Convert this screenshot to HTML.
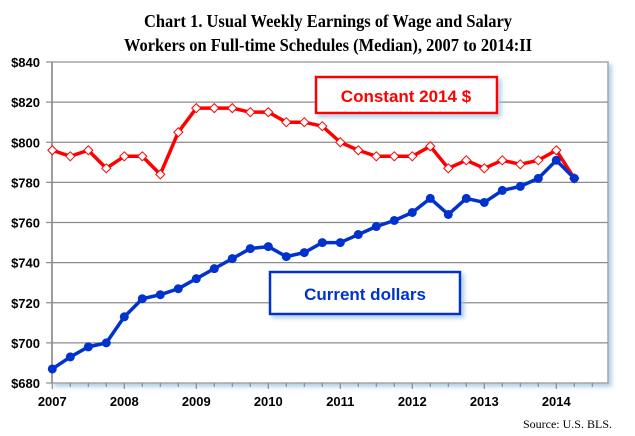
<!DOCTYPE html>
<html><head><meta charset="utf-8"><style>
html,body{margin:0;padding:0;background:#fff;}
svg{display:block;font-family:"Liberation Sans",sans-serif;}
</style></head><body>
<svg id="chart" width="635" height="436" viewBox="0 0 635 436" xmlns="http://www.w3.org/2000/svg">
<defs><filter id="sh" x="-10%" y="-10%" width="130%" height="130%"><feDropShadow dx="3" dy="3" stdDeviation="2" flood-color="#9cc3e0" flood-opacity="0.8"/></filter></defs>
<text x="328" y="27" text-anchor="middle" font-family="Liberation Serif,serif" font-weight="bold" font-size="18" textLength="368" lengthAdjust="spacingAndGlyphs">Chart 1. Usual Weekly Earnings  of Wage and Salary</text>
<text x="328" y="51" text-anchor="middle" font-family="Liberation Serif,serif" font-weight="bold" font-size="18" textLength="408" lengthAdjust="spacingAndGlyphs">Workers on Full-time Schedules (Median), 2007 to 2014:II</text>
<rect x="52" y="62" width="556" height="321" fill="#fff" stroke="#a6a6a6" stroke-width="1.5" filter="url(#sh)"/>
<g id="grid"></g><g id="axes"></g><g id="series"></g>
<g>
<rect x="316" y="77" width="181" height="36" fill="#fff" stroke="#ff0000" stroke-width="2.5" filter="url(#sh)"/>
<text x="406" y="102" text-anchor="middle" font-weight="bold" font-size="17" fill="#ff0000">Constant  2014 $</text>
</g>
<g>
<rect x="270" y="272" width="190" height="42" fill="#fff" stroke="#0033cc" stroke-width="2.5" filter="url(#sh)"/>
<text x="365" y="300" text-anchor="middle" font-weight="bold" font-size="17" fill="#0033cc">Current  dollars</text>
</g>
<text x="612" y="428" text-anchor="end" font-family="Liberation Serif,serif" font-size="12">Source:  U.S. BLS.</text>
</svg>
<script>
const yTicks=[680,700,720,740,760,780,800,820,840];
const xYears=[2007,2008,2009,2010,2011,2012,2013,2014];
const constant2014=[796,793,796,787,793,793,784,805,817,817,817,815,815,810,810,808,800,796,793,793,793,798,787,791,787,791,789,791,796,782];
const currentDollars=[687,693,698,700,713,722,724,727,732,737,742,747,748,743,745,750,750,754,758,761,765,772,764,772,770,776,778,782,791,782];
const NS="http://www.w3.org/2000/svg";
function yS(v){return 383-(v-680)*(321/160);}
function xS(i){return 52.3+i*18;}
function mk(t,a,p){const e=document.createElementNS(NS,t);for(const k in a)e.setAttribute(k,a[k]);p.appendChild(e);return e;}
const grid=document.getElementById('grid'),axes=document.getElementById('axes'),ser=document.getElementById('series');
yTicks.forEach(v=>{
 const y=yS(v);
 if(v>680&&v<840){const l=mk('line',{x1:52,x2:608,y1:y,y2:y,stroke:'#8c8c8c','stroke-width':1.2},grid);
 
 }
 const t=mk('line',{x1:46,x2:52,y1:y,y2:y,stroke:'#8c8c8c','stroke-width':1.2},axes);
 
 
 const tx=mk('text',{x:40,y:y+5,'text-anchor':'end','font-weight':'bold','font-size':13},axes);
 tx.textContent='$'+v;
 
 
});
const ya=mk('line',{x1:52,x2:52,y1:62,y2:383,stroke:'#8c8c8c','stroke-width':1.5},axes);


for(let q=0;q<=30;q++){
 const x=xS(q),major=q%4===0;
 const t=mk('line',{x1:x,x2:x,y1:383,y2:major?389:387,stroke:'#8c8c8c','stroke-width':1.2},axes);
 
 
}
xYears.forEach((yr,i)=>{
 const tx=mk('text',{x:xS(i*4),y:406,'text-anchor':'middle','font-weight':'bold','font-size':13},axes);
 tx.textContent=yr;
 
 
});
function line(data,color,name,marker){
 const pts=data.map((v,i)=>xS(i)+','+yS(v)).join(' ');
 const pl=mk('polyline',{points:pts,fill:'none',stroke:color,'stroke-width':3.5,'stroke-linejoin':'round'},ser);
 
 
 data.forEach((v,i)=>{
  let m;
  if(marker==='diamond'){const x=xS(i),y=yS(v);
   m=mk('polygon',{points:`${x},${y-4.5} ${x+4.5},${y} ${x},${y+4.5} ${x-4.5},${y}`,fill:'#fff',stroke:color,'stroke-width':1},ser);}
  else m=mk('circle',{cx:xS(i),cy:yS(v),r:4.5,fill:color},ser);
  
  
 });
}
line(constant2014,'#ff0000','constant-2014','diamond');
line(currentDollars,'#0033cc','current-dollars','circle');
</script>
</body></html>
